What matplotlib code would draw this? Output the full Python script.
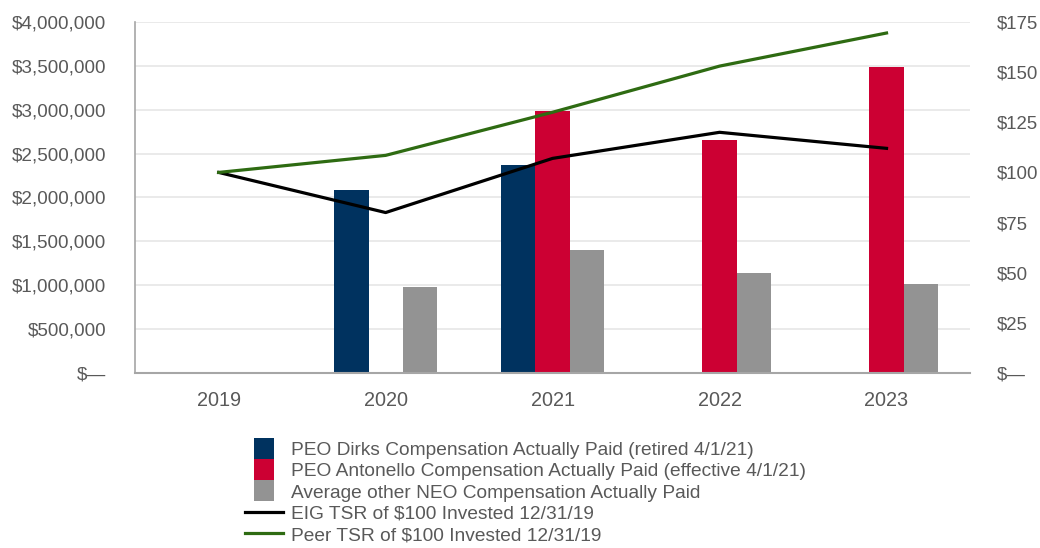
import numpy as np
import matplotlib.pyplot as plt
from matplotlib.patches import Rectangle
from matplotlib.legend_handler import HandlerPatch

plt.rcParams['font.family'] = ['Liberation Sans', 'DejaVu Sans']

years = ["2019", "2020", "2021", "2022", "2023"]
dirks = [0, 2080000, 2370000, 0, 0]
antonello = [0, 0, 2980000, 2650000, 3490000]
neo_avg = [0, 975000, 1405000, 1140000, 1015000]
eig_tsr = [100, 80, 107, 120, 112]
peer_tsr = [100, 108.5, 130, 153, 169.5]

left_ticks = [0, 500000, 1000000, 1500000, 2000000, 2500000, 3000000, 3500000, 4000000]
right_ticks = [0, 25, 50, 75, 100, 125, 150, 175]

navy = "#00325F"
red = "#CC0033"
gray = "#939393"
green = "#2E6B12"
txt = "#595959"

fig = plt.figure(figsize=(10.4, 5.48), dpi=100)
ax = fig.add_axes([0.13, 0.3193, 0.8027, 0.6406])
ax2 = ax.twinx()

x = np.arange(len(years))
w = 0.205
b1 = ax.bar(x - w, dirks, w, color=navy, zorder=2)
b2 = ax.bar(x, antonello, w, color=red, zorder=2)
b3 = ax.bar(x + w, neo_avg, w, color=gray, zorder=2)

l1, = ax2.plot(x, eig_tsr, color="black", lw=2.3)
l2, = ax2.plot(x, peer_tsr, color=green, lw=2.3)

ax.set_xlim(-0.5, 4.5)
ax.set_ylim(0, 4000000)
ax2.set_ylim(0, 175)
ax.set_yticks(left_ticks)
ax.set_yticklabels(["$—"] + ["${:,.0f}".format(v) for v in left_ticks[1:]])
ax2.set_yticks(right_ticks)
ax2.set_yticklabels(["$—"] + ["${}".format(v) for v in right_ticks[1:]])
ax.set_xticks(x)
ax.set_xticklabels(years)

ax.grid(axis='y', color="#E6E6E6", lw=1.2, zorder=0)
ax.set_axisbelow(True)
for a in (ax, ax2):
    a.spines['top'].set_visible(False)
    a.spines['right'].set_visible(False)
ax2.spines['left'].set_visible(False)
ax2.spines['bottom'].set_visible(False)
ax.spines['left'].set_color("#A6A6A6")
ax.spines['bottom'].set_color("#A6A6A6")
ax.spines['left'].set_linewidth(1.2)
ax.spines['bottom'].set_linewidth(1.5)

ax.tick_params(axis='y', length=0, labelsize=13.6, labelcolor=txt, pad=21)
ax.tick_params(axis='x', length=0, labelsize=14.3, labelcolor=txt, pad=13)
ax2.tick_params(axis='y', length=0, labelsize=13.4, labelcolor=txt, pad=19)


def square(legend, orig_handle, xdescent, ydescent, width, height, fontsize):
    s = height * 1.55
    return Rectangle((width / 2 - s / 2 - xdescent, -ydescent - (s - height) / 2), s, s)


handles = [b1.patches[0], b2.patches[0], b3.patches[0], l1, l2]
labels = ["PEO Dirks Compensation Actually Paid (retired 4/1/21)",
          "PEO Antonello Compensation Actually Paid (effective 4/1/21)",
          "Average other NEO Compensation Actually Paid",
          "EIG TSR of $100 Invested 12/31/19",
          "Peer TSR of $100 Invested 12/31/19"]
leg = fig.legend(handles, labels, loc='upper left', bbox_to_anchor=(0.2356, 0.194),
                 frameon=False, fontsize=13.8, labelcolor=txt, handlelength=1.98,
                 handletextpad=0.42, labelspacing=0.2, borderpad=0, borderaxespad=0,
                 handler_map={Rectangle: HandlerPatch(patch_func=square)})

fig.savefig("out.png", dpi=100)
